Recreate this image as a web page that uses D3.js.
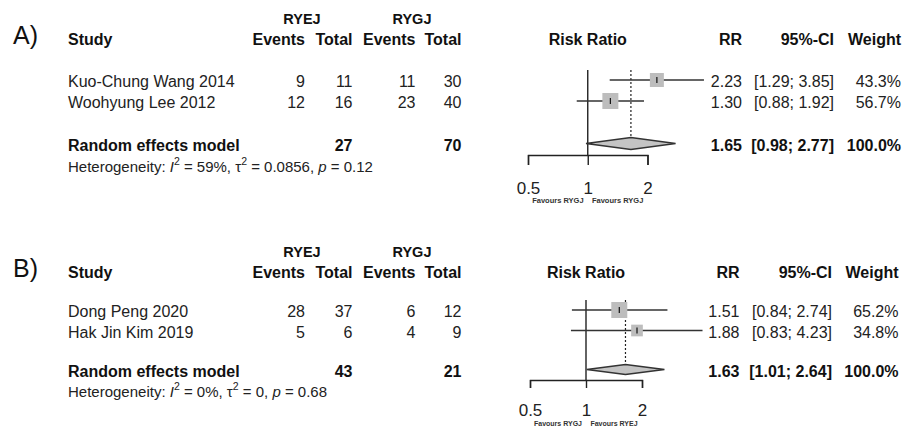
<!DOCTYPE html>
<html>
<head>
<meta charset="utf-8">
<script src="https://cdn.jsdelivr.net/npm/d3@7"></script>
<style>
  html, body { margin: 0; padding: 0; background: #fff; }
  svg { display: block; font-family: "Liberation Sans", Arial, sans-serif; }
</style>
</head>
<body>
<svg id="chart" width="905" height="430"></svg>
<script>
// ---------- data ----------
const panelLabels = ["A)", "B)"];
const groupLabels = ["RYEJ", "RYGJ"];
const colHeaders = ["Study", "Events", "Total", "Events", "Total"];
const forestHeaders = ["Risk Ratio", "RR", "95%-CI", "Weight"];
const pooledLabel = "Random effects model";

// Panel A
const studiesA = ["Kuo-Chung Wang 2014", "Woohyung Lee 2012"];
const eventsExpA = [9, 12];
const totalExpA = [11, 16];
const eventsCtlA = [11, 23];
const totalCtlA = [30, 40];
const rrA = [2.23, 1.30];
const lowerA = [1.29, 0.88];
const upperA = [3.85, 1.92];
const weightA = [43.3, 56.7];
const pooledA = [1.65, 0.98, 2.77];      // estimate, lower, upper
const pooledTotalsA = [27, 70];
const hetA = ["59%", "0.0856", "0.12"];  // I², tau², p
const favoursA = ["Favours RYGJ", "Favours RYGJ"];

// Panel B
const studiesB = ["Dong Peng 2020", "Hak Jin Kim 2019"];
const eventsExpB = [28, 5];
const totalExpB = [37, 6];
const eventsCtlB = [6, 4];
const totalCtlB = [12, 9];
const rrB = [1.51, 1.88];
const lowerB = [0.84, 0.83];
const upperB = [2.74, 4.23];
const weightB = [65.2, 34.8];
const pooledB = [1.63, 1.01, 2.64];
const pooledTotalsB = [43, 21];
const hetB = ["0%", "0", "0.68"];
const favoursB = ["Favours RYGJ", "Favours RYEJ"];

// Risk ratio axis
const tickValues = [0.5, 1, 2];
const tickLabels = ["0.5", "1", "2"];

// ---------- layout ----------
const leftCols = { name: 68, right: [305, 352.5, 415.5, 461.5], group: [302, 412] };

const layoutA = {
  label: 44, group: 24, header: 45, rows: [80, 101], pooled: 143.5, het: 172,
  top: 70, axisY: 155, tick: 10, tickLabel: 194, favours: 202.5,
  range: [528, 647.5], rr: 742, ci: 834, w: 901, favFont: 7.5, diamondH: 12, maxSq: 16
};
const layoutB = {
  label: 276.5, group: 256.5, header: 277.5, rows: [310, 330.5], pooled: 369.5, het: 396.5,
  top: 300, axisY: 380, tick: 8, tickLabel: 416, favours: 425.5,
  range: [530, 642], rr: 739.5, ci: 832, w: 898.5, favFont: 7, diamondH: 10, maxSq: 16
};

const TXT = "#222", BOLD = "#111";
const f2 = d3.format(".2f"), f1 = d3.format(".1f");
const svg = d3.select("#chart");

function drawPanel(L, label, d) {
  const g = svg.append("g");
  const rowText = y => y + 7;   // baseline of a row's text

  // panel letter
  g.append("text").attr("x", 13).attr("y", L.label)
    .attr("font-size", 25).attr("fill", "#111").text(label);

  // group headers
  groupLabels.forEach((t, i) => {
    g.append("text").attr("x", leftCols.group[i]).attr("y", L.group)
      .attr("text-anchor", "middle").attr("font-size", 14.5)
      .attr("font-weight", "bold").attr("fill", BOLD).text(t);
  });

  // column headers (left table)
  g.append("text").attr("x", leftCols.name).attr("y", L.header)
    .attr("font-size", 16).attr("font-weight", "bold").attr("fill", BOLD).text(colHeaders[0]);
  colHeaders.slice(1).forEach((t, i) => {
    g.append("text").attr("x", leftCols.right[i]).attr("y", L.header)
      .attr("text-anchor", "end").attr("font-size", 16)
      .attr("font-weight", "bold").attr("fill", BOLD).text(t);
  });

  // forest headers
  const x = d3.scaleLog().domain([0.5, 2]).range(L.range);
  const rightX = [x(1), L.rr, L.ci, L.w];
  forestHeaders.forEach((t, i) => {
    g.append("text").attr("x", rightX[i]).attr("y", L.header)
      .attr("text-anchor", i === 0 ? "middle" : "end").attr("font-size", 16)
      .attr("font-weight", "bold").attr("fill", BOLD).text(t);
  });

  // study rows: table text
  d.studies.forEach((s, i) => {
    const y = rowText(L.rows[i]);
    g.append("text").attr("x", leftCols.name).attr("y", y)
      .attr("font-size", 16).attr("fill", TXT).text(s);
    [d.ee[i], d.te[i], d.ec[i], d.tc[i]].forEach((v, j) => {
      g.append("text").attr("x", leftCols.right[j]).attr("y", y)
        .attr("text-anchor", "end").attr("font-size", 16).attr("fill", TXT).text(v);
    });
    g.append("text").attr("x", L.rr).attr("y", y).attr("text-anchor", "end")
      .attr("font-size", 16).attr("fill", TXT).text(f2(d.rr[i]));
    g.append("text").attr("x", L.ci).attr("y", y).attr("text-anchor", "end")
      .attr("font-size", 16).attr("fill", TXT)
      .text("[" + f2(d.lo[i]) + "; " + f2(d.hi[i]) + "]");
    g.append("text").attr("x", L.w).attr("y", y).attr("text-anchor", "end")
      .attr("font-size", 16).attr("fill", TXT).text(f1(d.wt[i]) + "%");
  });

  // pooled row text
  const py = rowText(L.pooled);
  g.append("text").attr("x", leftCols.name).attr("y", py)
    .attr("font-size", 16).attr("font-weight", "bold").attr("fill", BOLD).text(pooledLabel);
  [1, 3].forEach((c, k) => {
    g.append("text").attr("x", leftCols.right[c]).attr("y", py).attr("text-anchor", "end")
      .attr("font-size", 16).attr("font-weight", "bold").attr("fill", BOLD).text(d.ptot[k]);
  });
  g.append("text").attr("x", L.rr).attr("y", py).attr("text-anchor", "end")
    .attr("font-size", 16).attr("font-weight", "bold").attr("fill", BOLD).text(f2(d.pooled[0]));
  g.append("text").attr("x", L.ci).attr("y", py).attr("text-anchor", "end")
    .attr("font-size", 16).attr("font-weight", "bold").attr("fill", BOLD)
    .text("[" + f2(d.pooled[1]) + "; " + f2(d.pooled[2]) + "]");
  g.append("text").attr("x", L.w).attr("y", py).attr("text-anchor", "end")
    .attr("font-size", 16).attr("font-weight", "bold").attr("fill", BOLD)
    .text(f1(d3.sum(d.wt)) + "%");

  // heterogeneity line
  const het = g.append("text").attr("x", leftCols.name).attr("y", L.het)
    .attr("font-size", 15).attr("fill", TXT);
  het.append("tspan").text("Heterogeneity: ");
  het.append("tspan").attr("font-style", "italic").text("I");
  het.append("tspan").attr("dy", -7).attr("font-size", 10.5).text("2");
  het.append("tspan").attr("dy", 7).text(" = " + d.het[0] + ", \u03c4");
  het.append("tspan").attr("dy", -7).attr("font-size", 10.5).text("2");
  het.append("tspan").attr("dy", 7).text(" = " + d.het[1] + ", ");
  het.append("tspan").attr("font-style", "italic").text("p");
  het.append("tspan").text(" = " + d.het[2]);

  // ----- forest plot -----
  const sq = d3.scaleSqrt().domain([0, d3.max(d.wt)]).range([0, L.maxSq]);

  // reference line at RR = 1
  g.append("line").attr("x1", x(1)).attr("x2", x(1))
    .attr("y1", L.top).attr("y2", L.axisY)
    .attr("stroke", "#222").attr("stroke-width", 1.4);

  // pooled estimate (dotted)
  g.append("line").attr("x1", x(d.pooled[0])).attr("x2", x(d.pooled[0]))
    .attr("y1", L.top).attr("y2", L.pooled - L.diamondH / 2)
    .attr("stroke", "#222").attr("stroke-width", 1.2).attr("stroke-dasharray", "2,2");

  d.studies.forEach((s, i) => {
    const y = L.rows[i];
    g.append("line").attr("x1", x(d.lo[i])).attr("x2", x(d.hi[i]))
      .attr("y1", y).attr("y2", y).attr("stroke", "#333").attr("stroke-width", 1.5);
    const s2 = sq(d.wt[i]);
    g.append("rect").attr("x", x(d.rr[i]) - s2 / 2).attr("y", y - s2 / 2)
      .attr("width", s2).attr("height", s2).attr("fill", "#bdbdbd");
    g.append("line").attr("x1", x(d.rr[i])).attr("x2", x(d.rr[i]))
      .attr("y1", y - 3).attr("y2", y + 3).attr("stroke", "#111").attr("stroke-width", 1.2);
  });

  // pooled diamond
  const h = L.diamondH / 2, yc = L.pooled;
  g.append("polygon")
    .attr("points", [
      [x(d.pooled[1]), yc], [x(d.pooled[0]), yc - h],
      [x(d.pooled[2]), yc], [x(d.pooled[0]), yc + h]
    ].map(p => p.join(",")).join(" "))
    .attr("fill", "#c4c4c4").attr("stroke", "#333").attr("stroke-width", 1.4);

  // axis
  const axis = d3.axisBottom(x).tickValues(tickValues)
    .tickFormat((v, i) => tickLabels[i])
    .tickSizeInner(L.tick).tickSizeOuter(L.tick);
  const ag = g.append("g").attr("transform", `translate(0,${L.axisY})`).call(axis);
  ag.select(".domain").attr("stroke", "#222").attr("stroke-width", 1.4);
  ag.selectAll(".tick line").attr("stroke", "#222").attr("stroke-width", 1.4);
  ag.selectAll(".tick text").attr("y", L.tickLabel - L.axisY).attr("dy", null)
    .attr("font-size", 17).attr("font-family", "Liberation Sans, Arial, sans-serif")
    .attr("fill", TXT);

  // favours labels
  const mids = [Math.sqrt(0.5 * 1), Math.sqrt(1 * 2)];
  d.favours.forEach((t, i) => {
    g.append("text").attr("x", x(mids[i])).attr("y", L.favours)
      .attr("text-anchor", "middle").attr("font-size", L.favFont)
      .attr("font-weight", "bold").attr("fill", "#333").text(t);
  });
}

drawPanel(layoutA, panelLabels[0], {
  studies: studiesA, ee: eventsExpA, te: totalExpA, ec: eventsCtlA, tc: totalCtlA,
  rr: rrA, lo: lowerA, hi: upperA, wt: weightA, pooled: pooledA,
  ptot: pooledTotalsA, het: hetA, favours: favoursA
});
drawPanel(layoutB, panelLabels[1], {
  studies: studiesB, ee: eventsExpB, te: totalExpB, ec: eventsCtlB, tc: totalCtlB,
  rr: rrB, lo: lowerB, hi: upperB, wt: weightB, pooled: pooledB,
  ptot: pooledTotalsB, het: hetB, favours: favoursB
});
</script>
</body>
</html>
